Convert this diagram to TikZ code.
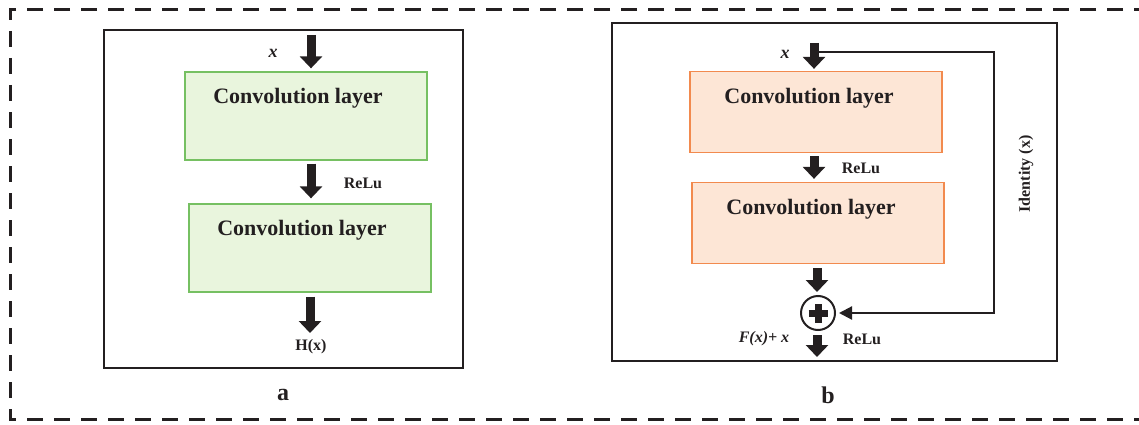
\documentclass[tikz,border=0pt]{standalone}
\usepackage{fontspec}
\setmainfont{Liberation Serif}
\usetikzlibrary{positioning,arrows.meta}
\definecolor{convgreen}{RGB}{233,245,221}
\definecolor{convgreenline}{RGB}{118,192,98}
\definecolor{convorange}{RGB}{253,230,214}
\definecolor{convorangeline}{RGB}{242,138,78}
\definecolor{ink}{RGB}{35,31,32}

\begin{document}
\begin{tikzpicture}[x=1pt,y=-1pt,
		convA/.style={draw=convgreenline, fill=convgreen, line width=1.3pt,
				minimum width=242pt, minimum height=88pt, inner sep=0pt},
		convB/.style={draw=convorangeline, fill=convorange, line width=1.3pt,
				minimum width=252pt, minimum height=81pt, inner sep=0pt},
		convtext/.style={font=\fontsize{22}{26}\selectfont\bfseries, text=ink, inner sep=0pt},
		lbl/.style={font=\fontsize{16}{19}\selectfont\bfseries, text=ink, inner sep=0pt},
		xlbl/.style={font=\fontsize{18}{21}\selectfont\bfseries\itshape, text=ink, inner sep=0pt},
		fatarrow/.style={line width=9pt, draw=ink, -{Triangle[length=12pt,width=22pt]}},
		skipline/.style={line width=2.2pt, draw=ink, -{Triangle[length=13pt,width=13pt]}},
		panel/.style={line width=1.6pt, draw=ink},
	]
	\useasboundingbox (0,0) rectangle (1139,425);
	% dashed frame round both blocks
	\draw[line width=3pt, ink, dash pattern=on 16pt off 11pt]
	(1150,10) -- (10,10) -- (10,419) -- (1150,419);

	%% block a: plain convolution stack
	\draw[panel] (104,30) rectangle (463,368);
	\node[convA] (conva1) at (306,116) {};
	\node[convA] (conva2) at (310,248) {};
	\node[convtext, below=17pt of conva1.north, xshift=-8pt] (ta1) {Convolution layer};
	\node[convtext, below=17pt of conva2.north, xshift=-8pt] (ta2) {Convolution layer};
	\coordinate (ina) at (311,35);
	\coordinate (outa) at (310,333);
	\node[xlbl] (xa) at (273,53) {x};
	\node[lbl] (relua) at (363,183) {ReLu};
	\node[lbl] (ha) at (311,347) {H(x)};
	\node[font=\fontsize{24}{28}\selectfont\bfseries, text=ink, inner sep=0pt] (capa) at (283,395) {a};
	\draw[fatarrow] (ina) -- ([yshift=3pt]ina |- conva1.north);
	\draw[fatarrow] ([yshift=-3pt]ina |- conva1.south) -- ([yshift=5pt]ina |- conva2.north);
	\draw[fatarrow] ([yshift=-4pt]outa |- conva2.south) -- (outa);

	%% block b: residual block
	\draw[panel] (612,23) rectangle (1057,361);
	\node[convB] (convb1) at (816,112) {};
	\node[convB] (convb2) at (818,223) {};
	\node[convtext, below=17pt of convb1.north, xshift=-7pt] (tb1) {Convolution layer};
	\node[convtext, below=17pt of convb2.north, xshift=-7pt] (tb2) {Convolution layer};
	\node[draw=ink, circle, line width=2pt, minimum size=34pt, inner sep=0pt] (addb) at (818,313) {};
	\draw[line width=7pt, ink] ([xshift=-9.5pt]addb.center) -- ([xshift=9.5pt]addb.center);
	\draw[line width=7pt, ink] ([yshift=-9.5pt]addb.center) -- ([yshift=9.5pt]addb.center);
	\coordinate (inb) at (814,43);
	\coordinate (skipstart) at (818,52);
	\coordinate (idcorner) at (994,313);
	\coordinate (outb) at (817,357);
	\node[xlbl] (xb) at (785,54) {x};
	\node[lbl] (relub1) at (861,168) {ReLu};
	\node[xlbl, font=\fontsize{16}{19}\selectfont\bfseries\itshape] (fxb) at (764,339) {F(x)+ x};
	\node[lbl] (relub2) at (862,339) {ReLu};
	\node[lbl, rotate=90] (ident) at (1026,174) {Identity (x)};
	\node[font=\fontsize{24}{28}\selectfont\bfseries, text=ink, inner sep=0pt] (capb) at (828,395) {b};
	\draw[fatarrow] (inb) -- ([yshift=2pt]inb |- convb1.north);
	\draw[fatarrow] ([yshift=-3pt]inb |- convb1.south) -- ([yshift=3pt]inb |- convb2.north);
	\draw[fatarrow] ([yshift=-4pt]convb2.south -| outb) -- ([yshift=3pt]addb.north -| outb);
	\draw[fatarrow] ([yshift=-4pt]addb.south -| outb) -- (outb);
	% identity shortcut
	\draw[skipline] (skipstart) -| (idcorner) -- ([xshift=3pt]addb.east);
\end{tikzpicture}
\end{document}
